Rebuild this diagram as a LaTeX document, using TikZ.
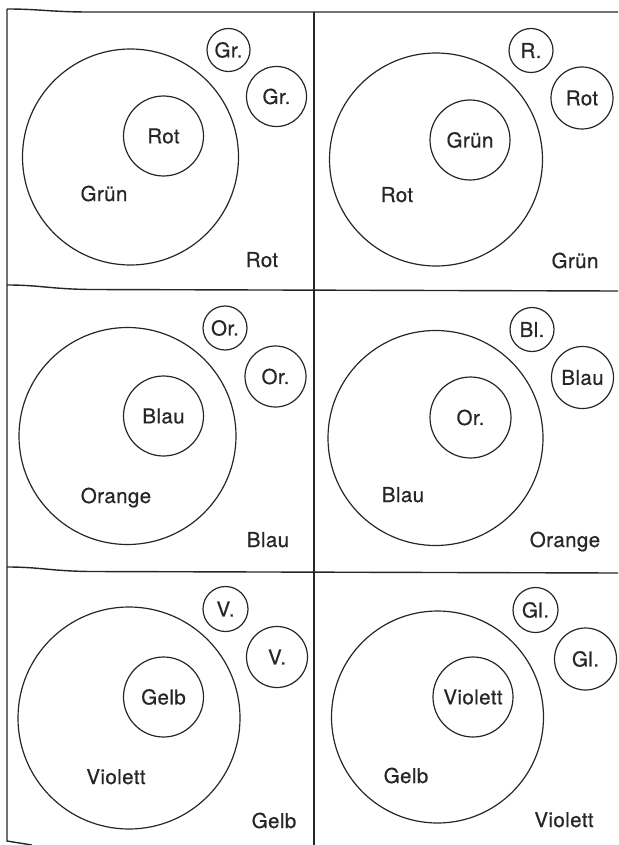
\documentclass[tikz,border=0pt]{standalone}
\usepackage{fontspec}
\setmainfont{TeX Gyre Heros}[FakeBold=0.6,LetterSpace=2]
\begin{document}
\begin{tikzpicture}[x=1pt,y=-1pt,
  every node/.style={font=\fontsize{20.5}{24}\selectfont, inner sep=0pt, text=black!85},
  ring/.style={circle,draw=black!85,line width=1.2pt,minimum size=#1},
  lab/.style={anchor=base},
  frame/.style={draw=black!85,line width=1.4pt}]
\useasboundingbox (0,0) rectangle (618,845);
% frame
\coordinate (tl) at (7,9);
\coordinate (tr) at (618,12);
\coordinate (ml1) at (7,285);
\coordinate (mr1) at (618,291);
\coordinate (ml2) at (7,567);
\coordinate (mr2) at (618,573);
\coordinate (bl) at (7,841);
\coordinate (be) at (32,845);
\coordinate (vt) at (314,12);
\coordinate (vb) at (314,845);
\draw[frame] (tl) .. controls (40,9) and (50,12) .. (90,12) -- (tr);
\draw[frame] (ml1) .. controls (40,285) and (50,289) .. (90,289.5) -- (mr1);
\draw[frame] (ml2) .. controls (40,567) and (50,571) .. (90,571.5) -- (mr2);
\draw[frame] (tl) -- (bl) -- (be);
\draw[frame] (vt) -- (vb);
% panel 1
\node[ring=216] (b1) at (130.5,157) {};
\node[ring=80] (i1) at (163.5,136) {Rot};
\node[ring=43] (s1) at (228.5,50) {Gr.};
\node[ring=60] (t1) at (276.5,96.5) {Gr.};
\node[lab] (g1) at (104,201) {Grün};
\node[lab] (o1) at (262,267) {Rot};
% panel 2
\node[ring=213] (b2) at (436,159.5) {};
\node[ring=80] (i2) at (470,140) {Grün};
\node[ring=44] (s2) at (531,50.5) {R.};
\node[ring=62] (t2) at (582,98) {Rot};
\node[lab] (g2) at (397,202) {Rot};
\node[lab] (o2) at (575,268) {Grün};
% panel 3
\node[ring=217] (b3) at (127.5,436) {};
\node[ring=80] (i3) at (163.5,416) {Blau};
\node[ring=44] (s3) at (225,328) {Or.};
\node[ring=61] (t3) at (275.5,376.5) {Or.};
\node[lab] (g3) at (116,503) {Orange};
\node[lab] (o3) at (268,547) {Blau};
% panel 4
\node[ring=215] (b4) at (435.5,438) {};
\node[ring=81] (i4) at (470.5,417.5) {Or.};
\node[ring=44] (s4) at (532,329.5) {Bl.};
\node[ring=62] (t4) at (582.5,377.5) {Blau};
\node[lab] (g4) at (403,502) {Blau};
\node[lab] (o4) at (565,547) {Orange};
% panel 5
\node[ring=222] (b5) at (129,718) {};
\node[ring=80] (i5) at (163.5,697) {Gelb};
\node[ring=45] (s5) at (225.5,609) {V.};
\node[ring=61] (t5) at (277,657) {V.};
\node[lab] (g5) at (116,784) {Violett};
\node[lab] (o5) at (274,828) {Gelb};
% panel 6
\node[ring=212] (b6) at (437.5,717) {};
\node[ring=80] (i6) at (473,697) {Violett};
\node[ring=45] (s6) at (535.5,610) {Gl.};
\node[ring=62] (t6) at (585.5,659) {Gl.};
\node[lab] (g6) at (406,783) {Gelb};
\node[lab] (o6) at (564,827) {Violett};
\end{tikzpicture}
\end{document}
